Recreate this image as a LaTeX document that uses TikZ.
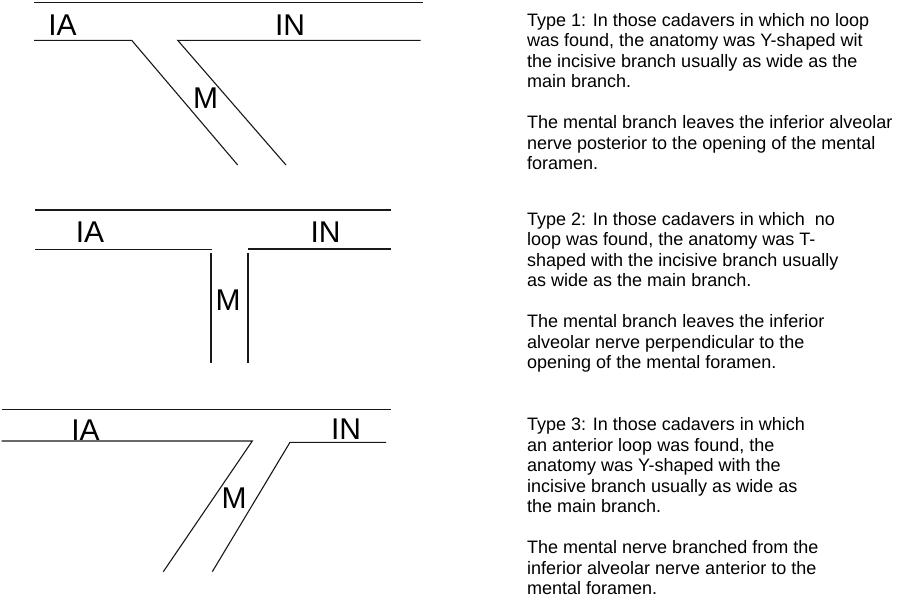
\documentclass[tikz,border=0pt]{standalone}
\usepackage{fontspec}
\setmainfont{Liberation Sans}
\begin{document}
\begin{tikzpicture}[x=1pt,y=-1pt,
  nerve/.style={line width=1.1pt, black!90},
  lbl/.style={font=\fontsize{30}{30}\selectfont, anchor=base, inner sep=0pt, text=black},
  desc/.style={font=\fontsize{18}{20.5}\selectfont, anchor=base west, align=left, inner sep=0pt, text=black}]
\useasboundingbox (0,0) rectangle (900,598);
\fill[white] (0,0) rectangle (900,598);
% ---------- Type 1 ----------
\draw[nerve] (34,2.7) -- (423,2.7);
\draw[nerve] (34,40.3) -- (131.7,40.3) -- (237.7,165);
\draw[nerve] (420.7,40.3) -- (177.7,40.3) -- (286,165);
\node[lbl] (ia1) at (62.5,35) {IA};
\node[lbl] (in1) at (290,35) {IN};
\node[lbl] (m1) at (205.5,108) {M};
% ---------- Type 2 ----------
\draw[nerve] (35,210) -- (390.7,210);
\draw[nerve] (35,249.5) -- (212.3,249.5);
\draw[nerve] (211,253.3) -- (211,363.3);
\draw[nerve] (248,253.3) -- (248,363.3);
\draw[nerve] (248,249) -- (390.7,249);
\node[lbl] (ia2) at (90,242) {IA};
\node[lbl] (in2) at (325.5,242) {IN};
\node[lbl] (m2) at (228,310) {M};
% ---------- Type 3 ----------
\draw[nerve] (1.7,409.7) -- (390.7,409.7);
\draw[nerve] (1.7,441) -- (252.3,441) -- (163.3,571.7);
\draw[nerve] (386,442.3) -- (290,442.3) -- (212.3,571.7);
\node[lbl] (ia3) at (85.5,440) {IA};
\node[lbl] (in3) at (346,439) {IN};
\node[lbl] (m3) at (234,508) {M};
% ---------- Descriptions (anchored at the last line's baseline) ----------
\node[desc] (t1) at (527,169.5) {Type 1: In those cadavers in which no loop\\
was found, the anatomy was Y-shaped wit\\
the incisive branch usually as wide as the\\
main branch.\\[20.5pt]
The mental branch leaves the inferior alveolar\\
nerve posterior to the opening of the mental\\
foramen.};
\node[desc] (t2) at (527,368.5) {Type 2: In those cadavers in which\ \ no\\
loop was found, the anatomy was T-\\
shaped with the incisive branch usually\\
as wide as the main branch.\\[20.5pt]
The mental branch leaves the inferior\\
alveolar nerve perpendicular to the\\
opening of the mental foramen.};
\node[desc] (t3) at (527,594.5) {Type 3: In those cadavers in which\\
an anterior loop was found, the\\
anatomy was Y-shaped with the\\
incisive branch usually as wide as\\
the main branch.\\[20.5pt]
The mental nerve branched from the\\
inferior alveolar nerve anterior to the\\
mental foramen.};
\end{tikzpicture}
\end{document}
